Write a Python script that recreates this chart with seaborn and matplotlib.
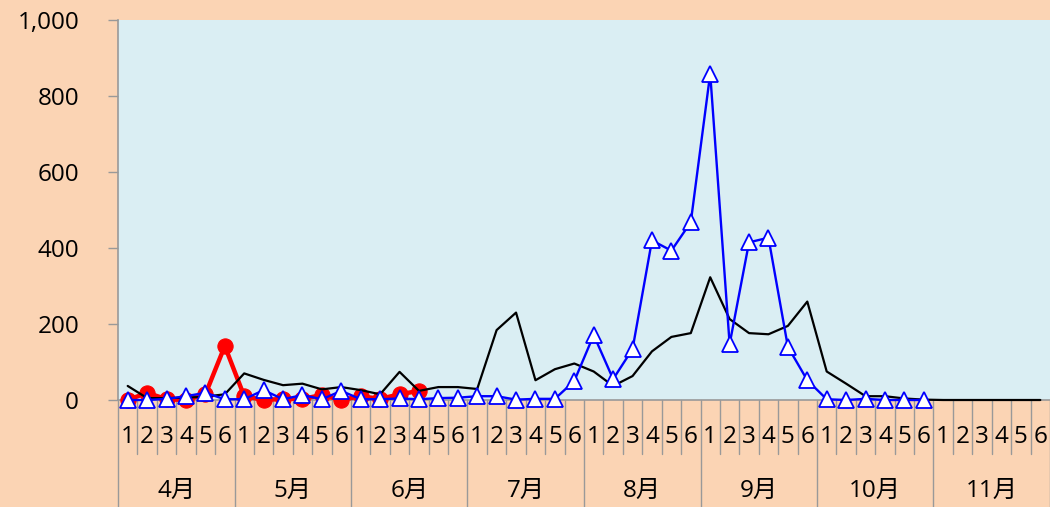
import numpy as np
import pandas as pd
import seaborn as sns
import matplotlib.pyplot as plt
from matplotlib.ticker import FuncFormatter

months = ['4月', '5月', '6月', '7月', '8月', '9月', '10月', '11月']
subs = ['1', '2', '3', '4', '5', '6']

# red series (circles) - 4月1 .. 6月4
red_vals = [0, 19, 2, 0, 15, 142, 10, 0, 3, 3, 13, 0, 10, 3, 15, 24]
# blue series (triangles) - 4月1 .. 10月6
blue_vals = [0, 0, 3, 10, 19, 2, 2, 26, 2, 13, 2, 24,
             2, 2, 4, 2, 5, 6, 10, 10, 1, 3, 3, 50,
             171, 55, 134, 420, 393, 468, 859, 147, 415, 427, 140, 52,
             2, 0, 3, 0, 0, 0]
# black series (line only) - 4月1 .. 11月6
black_vals = [37, 5, 5, 6, 9, 15, 70, 53, 39, 43, 28, 34,
              26, 15, 74, 24, 34, 34, 29, 184, 230, 52, 81, 96,
              75, 37, 63, 128, 166, 176, 323, 213, 176, 173, 195, 259,
              75, 43, 10, 10, 4, 1, 0, 0, 0, 0, 0, 0]

n = len(months) * len(subs)
red = pd.DataFrame({'x': np.arange(len(red_vals)), 'y': red_vals})
blue = pd.DataFrame({'x': np.arange(len(blue_vals)), 'y': blue_vals})
black = pd.DataFrame({'x': np.arange(len(black_vals)), 'y': black_vals})

sns.set_style('white')
plt.rcParams['font.family'] = ['Open Sans', 'Noto Sans CJK JP', 'DejaVu Sans']
plt.rcParams['text.color'] = 'black'
plt.rcParams['ytick.labelcolor'] = 'black'

fig = plt.figure(figsize=(10.5, 5.07), dpi=100, facecolor='#FBD4B4')
ax = fig.add_axes([118/1050, 1 - 400/507, 1 - 118/1050, 380/507])
ax.set_facecolor('#DAEEF3')

sns.lineplot(data=red, x='x', y='y', ax=ax, color='#FF0000', lw=3.2, marker='o',
             markersize=11, markeredgecolor='#FF0000', zorder=3, clip_on=False)
sns.lineplot(data=black, x='x', y='y', ax=ax, color='black', lw=1.6, zorder=4, clip_on=False)
sns.lineplot(data=blue, x='x', y='y', ax=ax, color='#0000FF', lw=1.7, marker='^',
             markersize=11.5, markerfacecolor='white', markeredgecolor='#0000FF',
             markeredgewidth=1.3, zorder=5, clip_on=False)

ax.set_xlim(-0.5, n - 0.5)
ax.set_ylim(0, 1000)
ax.set_yticks(np.arange(0, 1001, 200))
ax.yaxis.set_major_formatter(FuncFormatter(lambda v, p: f'{int(v):,}'))
ax.tick_params(axis='y', left=True, length=7, width=1, color='#999999',
               labelcolor='black', labelsize=17.5, pad=21)
ax.set_xticks([])
ax.set_xlabel('')
ax.set_ylabel('')
for s in ['top', 'right']:
    ax.spines[s].set_visible(False)
for s in ['left', 'bottom']:
    ax.spines[s].set_color('#999999')
    ax.spines[s].set_linewidth(1.2)

# category axis: separators and two-level labels
tr = ax.get_xaxis_transform()
for k in range(n + 1):
    bottom = -0.284 if k % 6 == 0 else -0.142
    ax.plot([k - 0.5, k - 0.5], [0, bottom], transform=tr, color='#999999', lw=1, clip_on=False)
for i in range(n):
    ax.text(i, -0.097, subs[i % 6], transform=tr, ha='center', va='center',
            fontsize=17.5, color='black')
for m, name in enumerate(months):
    ax.text(m * 6 + 2.5, -0.24, name, transform=tr, ha='center', va='center',
            fontsize=17.5, color='black')

plt.savefig('out.png', dpi=100, facecolor=fig.get_facecolor())
